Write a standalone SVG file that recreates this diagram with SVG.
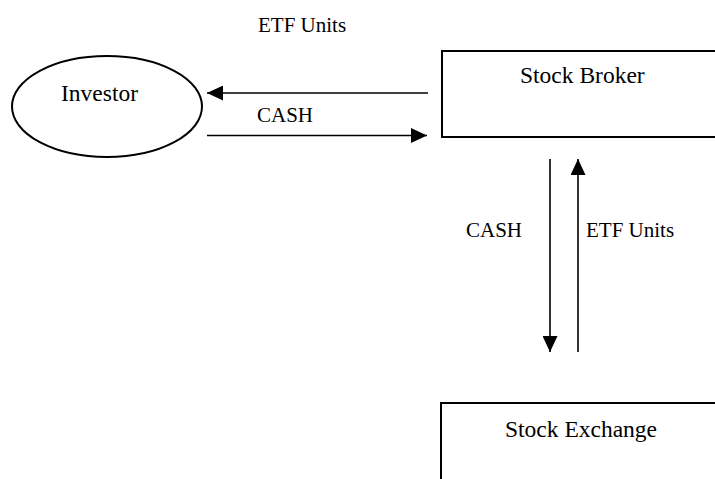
<svg xmlns="http://www.w3.org/2000/svg" width="715" height="479" viewBox="0 0 715 479">
<style>
text{font-family:"Liberation Serif","Times New Roman",serif;fill:#000}
.node{font-size:23.5px}
.lbl{font-size:21px}
.shape{fill:#fff;stroke:#000;stroke-width:2}
.conn{stroke:#000;stroke-width:1.6;fill:none}
</style>
<defs>
<marker id="ah" markerWidth="16" markerHeight="15" refX="16" refY="7.5" orient="auto" markerUnits="userSpaceOnUse">
<path d="M0,0 L16,7.5 L0,15 Z" fill="#000"/>
</marker>
</defs>
<rect width="715" height="479" fill="#fff"/>
<g id="investor">
<ellipse class="shape" cx="107" cy="106.5" rx="95" ry="50.5"/>
<text class="node" x="61" y="101">Investor</text>
</g>
<g id="stock-broker">
<rect class="shape" x="442" y="51" width="280" height="86"/>
<text class="node" x="520" y="83">Stock Broker</text>
</g>
<g id="stock-exchange">
<rect class="shape" x="441" y="403" width="280" height="90"/>
<text class="node" x="505" y="437">Stock Exchange</text>
</g>
<g id="connectors">
<line class="conn" x1="428" y1="93" x2="207" y2="93" marker-end="url(#ah)"/>
<line class="conn" x1="207" y1="135.5" x2="427" y2="135.5" marker-end="url(#ah)"/>
<line class="conn" x1="550" y1="159" x2="550" y2="352" marker-end="url(#ah)"/>
<line class="conn" x1="578" y1="352" x2="578" y2="159" marker-end="url(#ah)"/>
<text class="lbl" x="258" y="32">ETF Units</text>
<text class="lbl" x="257" y="122">CASH</text>
<text class="lbl" x="466" y="237">CASH</text>
<text class="lbl" x="586" y="237">ETF Units</text>
</g>
</svg>
